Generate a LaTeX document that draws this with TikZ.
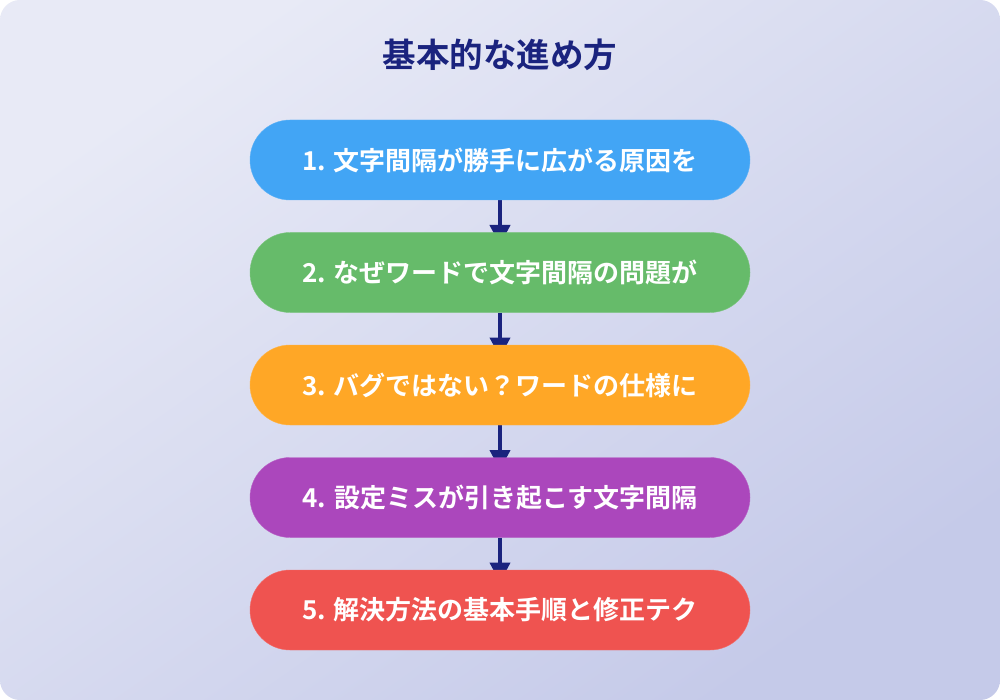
\documentclass[tikz,border=0pt]{standalone}
\usepackage{fontspec}
\setmainfont{Noto Sans CJK JP}[BoldFont={* Bold}]
\newfontfamily\jpb{Noto Sans CJK JP Bold}
\usetikzlibrary{arrows.meta,shapes.misc}
\definecolor{bgA}{HTML}{E8EAF6}
\definecolor{bgB}{HTML}{C5CAE9}
\definecolor{navy}{HTML}{1A237E}
\definecolor{cblue}{HTML}{42A5F5}
\definecolor{cgreen}{HTML}{66BB6A}
\definecolor{corange}{HTML}{FFA726}
\definecolor{cpurple}{HTML}{AB47BC}
\definecolor{cred}{HTML}{EF5350}
\tikzset{
  stepbox/.style={rounded rectangle, minimum width=500pt, minimum height=80pt, inner sep=0pt,
    text=white, font=\jpb\fontsize{26}{30}\selectfont},
  flowarrow/.style={draw=navy, line width=4pt, -{Triangle[width=20pt,length=20pt]}},
}
\begin{document}
\begin{tikzpicture}[x=1pt,y=-1pt]
\useasboundingbox (0,0) rectangle (1000,700);
\fill[white] (0,0) rectangle (1000,700);
\shade[left color=bgA, right color=bgB, shading angle=35, rounded corners=20pt] (0,0) rectangle (1000,700);
\node[text=navy, font=\jpb\fontsize{33.5}{37}\selectfont] (title) at (500,55) {基本的な進め方};
\coordinate (a1) at (500,200);
\coordinate (a2) at (500,312.5);
\coordinate (a3) at (500,425);
\coordinate (a4) at (500,537.5);
\coordinate (t1) at (500,245);
\coordinate (t2) at (500,357.5);
\coordinate (t3) at (500,470);
\coordinate (t4) at (500,582.5);
\draw[flowarrow] (a1) -- (t1);
\draw[flowarrow] (a2) -- (t2);
\draw[flowarrow] (a3) -- (t3);
\draw[flowarrow] (a4) -- (t4);
\node[stepbox, fill=cblue, draw=cblue!85!white] (s1) at (500,160) {1. 文字間隔が勝手に広がる原因を};
\node[stepbox, fill=cgreen, draw=cgreen!85!white] (s2) at (500,272.5) {2. なぜワードで文字間隔の問題が};
\node[stepbox, fill=corange, draw=corange!85!white] (s3) at (500,385) {3. バグではない？ワードの仕様に};
\node[stepbox, fill=cpurple, draw=cpurple!85!white] (s4) at (500,497.5) {4. 設定ミスが引き起こす文字間隔};
\node[stepbox, fill=cred, draw=cred!85!white] (s5) at (500,610) {5. 解決方法の基本手順と修正テク};
\end{tikzpicture}
\end{document}
